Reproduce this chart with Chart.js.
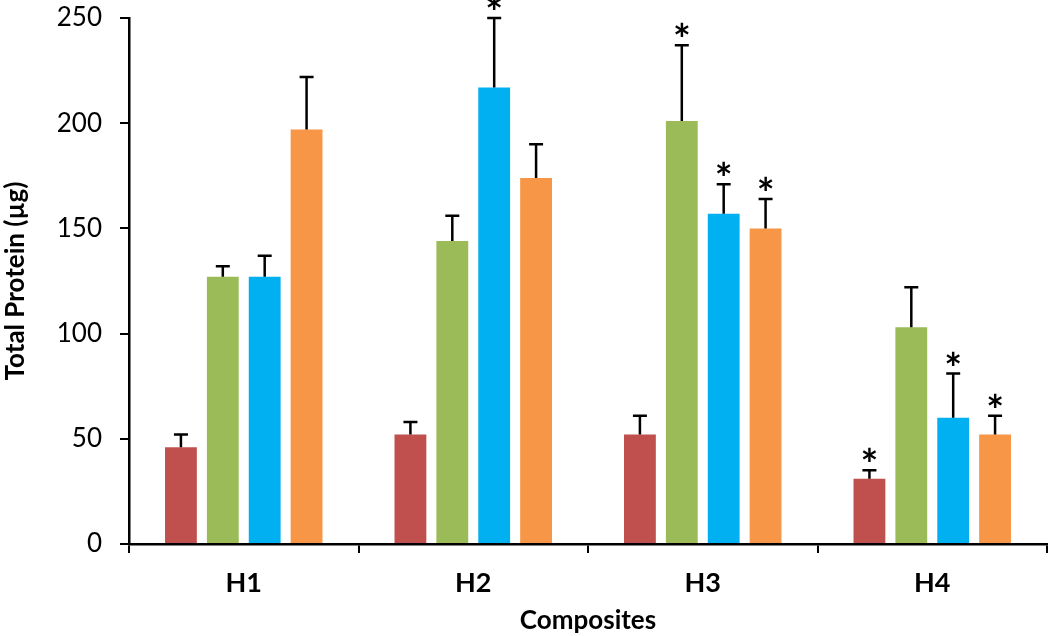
<!DOCTYPE html>
<html>
<head>
<meta charset="utf-8">
<script src="https://cdn.jsdelivr.net/npm/chart.js@4"></script>
<style>
  html, body { margin: 0; padding: 0; background: #fff; }
  #wrap { width: 1050px; height: 636px; }
</style>
</head>
<body>
<div id="wrap"><canvas id="chart"></canvas></div>
<script>
// categories and values
const categories = ['H1', 'H2', 'H3', 'H4'];
const redValues = [46, 52, 52, 31];
const greenValues = [127, 144, 201, 103];
const blueValues = [127, 217, 157, 60];
const orangeValues = [197, 174, 150, 52];

// upper error bar lengths
const redErrors = [6, 6, 9, 4];
const greenErrors = [5, 12, 36, 19];
const blueErrors = [10, 33, 14, 21];
const orangeErrors = [25, 16, 14, 9];

// 1 = significance asterisk above the bar
const redStars = [0, 0, 0, 1];
const greenStars = [0, 0, 1, 0];
const blueStars = [0, 1, 1, 1];
const orangeStars = [0, 0, 1, 1];

const yTicks = [0, 50, 100, 150, 200, 250];

const FONT = 'Lato, "Open Sans", sans-serif';

// draws the error bars and asterisks on top of the bars
const errorBarPlugin = {
  id: 'errorBars',
  afterDatasetsDraw(chart) {
    const ctx = chart.ctx;
    const yScale = chart.scales.y;
    chart.data.datasets.forEach((ds, i) => {
      const meta = chart.getDatasetMeta(i);
      meta.data.forEach((bar, j) => {
        const top = yScale.getPixelForValue(ds.data[j] + ds.errors[j]);
        ctx.save();
        ctx.strokeStyle = '#000';
        ctx.lineWidth = 2.5;
        ctx.beginPath();
        ctx.moveTo(bar.x, bar.y);
        ctx.lineTo(bar.x, top);
        ctx.moveTo(bar.x - 7, top);
        ctx.lineTo(bar.x + 7, top);
        ctx.stroke();
        if (ds.stars[j]) {
          ctx.fillStyle = '#000';
          ctx.font = 'bold 42px ' + FONT;
          ctx.textAlign = 'center';
          ctx.textBaseline = 'alphabetic';
          ctx.fillText('*', bar.x, top + 10);
        }
        ctx.restore();
      });
    });
  }
};

const ctx = document.getElementById('chart').getContext('2d');
new Chart(ctx, {
  type: 'bar',
  data: {
    labels: categories,
    datasets: [
      { label: 'Series 1', data: redValues, errors: redErrors, stars: redStars, backgroundColor: '#C0504D' },
      { label: 'Series 2', data: greenValues, errors: greenErrors, stars: greenStars, backgroundColor: '#9BBB59' },
      { label: 'Series 3', data: blueValues, errors: blueErrors, stars: blueStars, backgroundColor: '#00B0F0' },
      { label: 'Series 4', data: orangeValues, errors: orangeErrors, stars: orangeStars, backgroundColor: '#F79646' },
    ],
  },
  options: {
    responsive: true,
    maintainAspectRatio: false,
    animation: false,
    categoryPercentage: 0.73,
    barPercentage: 0.76,
    layout: { padding: { top: 18, right: 3, left: 0, bottom: 0 } },
    plugins: {
      legend: { display: false },
      tooltip: { enabled: false },
    },
    scales: {
      x: {
        grid: { drawOnChartArea: false, color: '#000', tickLength: 9, offset: true, lineWidth: 2 },
        border: { color: '#000', width: 2.5 },
        ticks: { color: '#000', font: { family: FONT, size: 27, weight: 'bold' }, padding: 14 },
        title: { display: true, text: 'Composites', color: '#000', font: { family: FONT, size: 26, weight: 'bold' }, padding: { top: 2, bottom: 0 } },
        afterFit(scale) { scale.height = 92; scale.paddingLeft = 0; scale.paddingRight = 0; },
      },
      y: {
        min: 0,
        max: 250,
        afterBuildTicks(scale) { scale.ticks = yTicks.map(v => ({ value: v })); },
        grid: { drawOnChartArea: false, color: '#000', tickLength: 9, lineWidth: 2 },
        border: { color: '#000', width: 2.5 },
        ticks: { color: '#000', font: { family: FONT, size: 26 }, padding: 18 },
        title: { display: true, text: 'Total Protein (µg)', color: '#000', font: { family: FONT, size: 26, weight: 'bold' }, padding: { bottom: 0, top: 0 } },
        afterFit(scale) { scale.width = 129; scale.paddingTop = 0; scale.paddingBottom = 0; },
      },
    },
  },
  plugins: [errorBarPlugin],
});
</script>
</body>
</html>
